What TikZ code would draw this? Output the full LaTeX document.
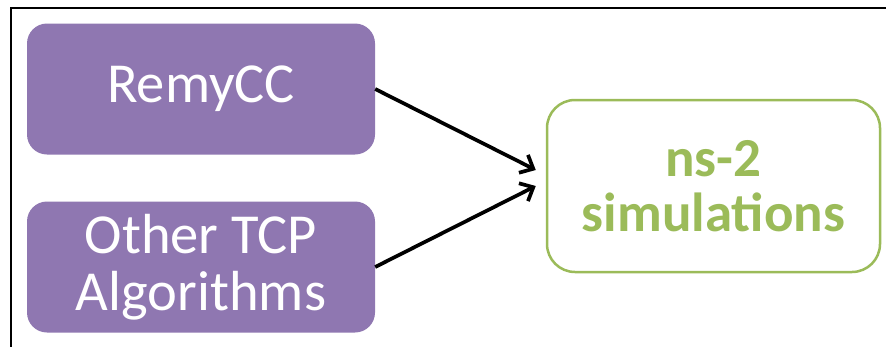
\documentclass[tikz,border=0pt]{standalone}
\usepackage{fontspec}
\setmainfont{Carlito}
\usetikzlibrary{arrows.meta}
\definecolor{boxpurple}{HTML}{8F77B1}
\definecolor{simgreen}{HTML}{9BBB59}
\begin{document}
\begin{tikzpicture}[x=1pt,y=-1pt,
  srcbox/.style={fill=boxpurple, rounded corners=20pt, minimum width=348pt,
    minimum height=131pt, inner sep=0pt, text=white, align=center,
    font=\fontsize{56.5}{57}\selectfont},
  simbox/.style={draw=simgreen, line width=2.5pt, rounded corners=28pt,
    minimum width=333pt, minimum height=172pt, inner sep=0pt, text=simgreen,
    align=center, font=\fontsize{55}{55}\selectfont\bfseries},
  flow/.style={line width=3.7pt, -{Straight Barb[length=11pt,width=20pt]}}]
\useasboundingbox (0,0) rectangle (886,346);
% frame edges
\draw[line width=2.4pt] (11,352) -- (11,8) -- (892,8);
% boxes
\node[srcbox] (remy) at (201,89) {RemyCC};
\node[srcbox] (other) at (201,267) {Other TCP\\Algorithms};
\node[simbox] (sim) at (713.5,186) {ns-2\\simulations};
% arrow targets just left of the simulation box
\coordinate (inA) at ([xshift=-10pt,yshift=16pt]sim.west);
\coordinate (inB) at ([xshift=-10pt]sim.west);
\draw[flow] (remy.east) -- (inA);
\draw[flow] (other.east) -- (inB);
\end{tikzpicture}
\end{document}
